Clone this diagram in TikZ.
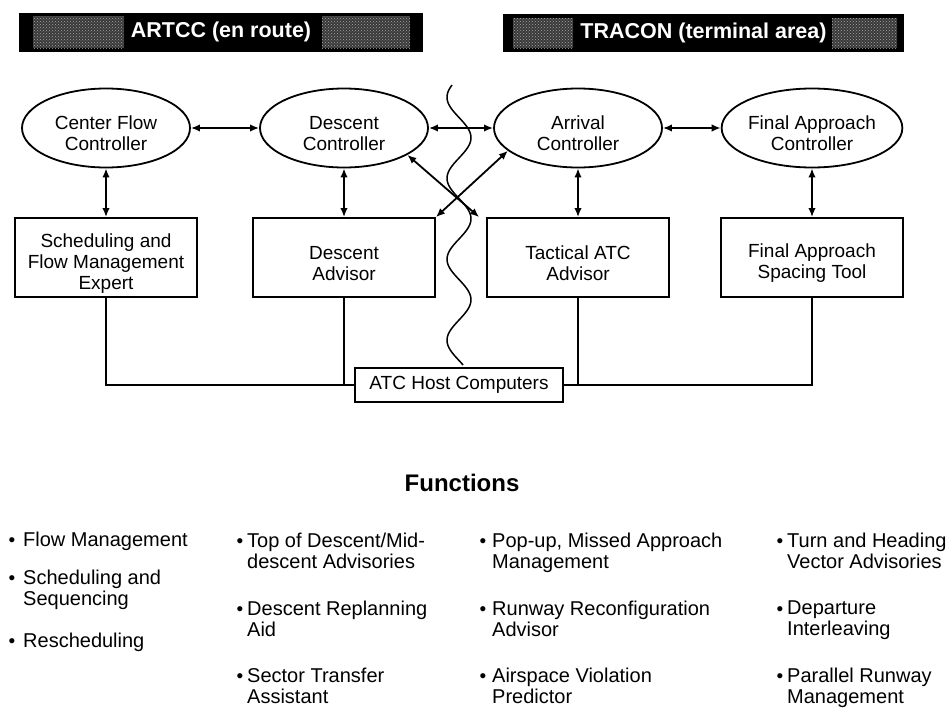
\documentclass[tikz,border=0pt]{standalone}
\usepackage{fontspec}
\setmainfont{Liberation Sans}
\usetikzlibrary{shapes.geometric,arrows.meta,patterns}

\newcommand{\topgap}{\rule{0pt}{25pt}}

\tikzset{
  ctrl/.style={draw, ellipse, line width=1.8pt, minimum width=168pt, minimum height=79pt, inner sep=0pt, align=center, font=\fontsize{19}{21}\selectfont},
  tool/.style={draw, rectangle, line width=1.8pt, minimum width=182pt, minimum height=79pt, inner sep=0pt, align=center, font=\fontsize{19}{21}\selectfont},
  hdr/.style={fill=black, text=white, minimum height=39pt, inner sep=0pt, font=\bfseries\fontsize{21.5}{24}\selectfont},
  patch/.style={fill=gray!45!black, postaction={pattern=crosshatch dots, pattern color=gray!70}},
  link/.style={line width=1.8pt, {Latex[length=9pt,width=7.5pt]}-{Latex[length=9pt,width=7.5pt]}},
  wire/.style={line width=1.8pt},
  fitem/.style={anchor=north west, align=left, inner sep=0pt, font=\fontsize{20}{21}\selectfont},
  bul/.style={anchor=base, inner sep=0pt, font=\fontsize{19}{21}\selectfont},
}

\begin{document}
\begin{tikzpicture}[x=1pt,y=-1pt]
		\useasboundingbox (0,0) rectangle (949,707);
		\node[hdr, minimum width=404pt] (artcc) at (221,32) {ARTCC (en route)};
		\node[hdr, minimum width=401pt, minimum height=38pt] (tracon) at (703.5,33) {TRACON (terminal area)};
		\path[patch] (33,16) rectangle (124,48);
		\path[patch] (322,16) rectangle (410,48);
		\path[patch] (513,18) rectangle (573,48);
		\path[patch] (832,18) rectangle (897,48);

		\node[ctrl] (cfc) at (106,128) {\topgap Center Flow\\Controller};
		\node[ctrl] (dc) at (344,128) {\topgap Descent\\Controller};
		\node[ctrl] (ac) at (578,128) {\topgap Arrival\\Controller};
		\node[ctrl] (fac) at (812,128) {\topgap Final Approach\\Controller};

		\node[tool] (sfme) at (106,257.5) {\topgap Scheduling and\\Flow Management\\Expert};
		\node[tool] (da) at (344,257.5) {\topgap Descent\\Advisor};
		\node[tool] (tata) at (578,257.5) {\topgap Tactical ATC\\Advisor};
		\node[tool] (fast) at (812,257.5) {\topgap Final Approach\\Spacing Tool};

		\node[draw, line width=1.8pt, minimum width=208pt, minimum height=34pt, inner sep=0pt, font=\fontsize{19}{21}\selectfont] (host) at (459,385) {ATC Host Computers};

		\draw[line width=1.5pt] plot[domain=85:365, samples=140, smooth] ({459-12*sin(4.4444*(\x-77))}, \x);

		\draw[link] (cfc) -- (dc);
		\draw[link] (dc) -- (ac);
		\draw[link] (ac) -- (fac);
		\draw[link] (cfc) -- (sfme);
		\draw[link] (dc) -- (da);
		\draw[link] (ac) -- (tata);
		\draw[link] (fac) -- (fast);
		\draw[link] (dc.-23) -- ([xshift=-7pt]tata.north west);
		\draw[link] (ac.-162) -- (da.north east);

		\draw[wire] (sfme.south) |- (host.west);
		\draw[wire] (da.south) -- (da.south |- host.west);
		\draw[wire] (tata.south) -- (tata.south |- host.east);
		\draw[wire] (fast.south) |- (host.east);

		\node[font=\bfseries\fontsize{24}{28}\selectfont] (fn) at (462,483) {Functions};

		\node[fitem] (f11) at (23,532) {Flow Management};
		\node[fitem] (f12) at (23,570) {Scheduling and\\Sequencing};
		\node[fitem] (f13) at (23,633) {Rescheduling};
		\node[bul] (b11) at (12,546) {•};
		\node[bul] (b12) at (12,584) {•};
		\node[bul] (b13) at (12,647) {•};

		\node[fitem] (f21) at (247,533) {Top of Descent/Mid-\\descent Advisories};
		\node[fitem] (f22) at (247,601) {Descent Replanning\\Aid};
		\node[fitem] (f23) at (247,668) {Sector Transfer\\Assistant};
		\node[bul] (b21) at (240,547) {•};
		\node[bul] (b22) at (240,615) {•};
		\node[bul] (b23) at (240,682) {•};

		\node[fitem] (f31) at (492,533) {Pop-up, Missed Approach\\Management};
		\node[fitem] (f32) at (492,601) {Runway Reconfiguration\\Advisor};
		\node[fitem] (f33) at (492,668) {Airspace Violation\\Predictor};
		\node[bul] (b31) at (483,547) {•};
		\node[bul] (b32) at (483,615) {•};
		\node[bul] (b33) at (483,682) {•};

		\node[fitem] (f41) at (787,533) {Turn and Heading\\Vector Advisories};
		\node[fitem] (f42) at (787,601) {Departure\\Interleaving};
		\node[fitem] (f43) at (787,668) {Parallel Runway\\Management};
		\node[bul] (b41) at (780,547) {•};
		\node[bul] (b42) at (780,615) {•};
		\node[bul] (b43) at (780,682) {•};
\end{tikzpicture}
\end{document}
